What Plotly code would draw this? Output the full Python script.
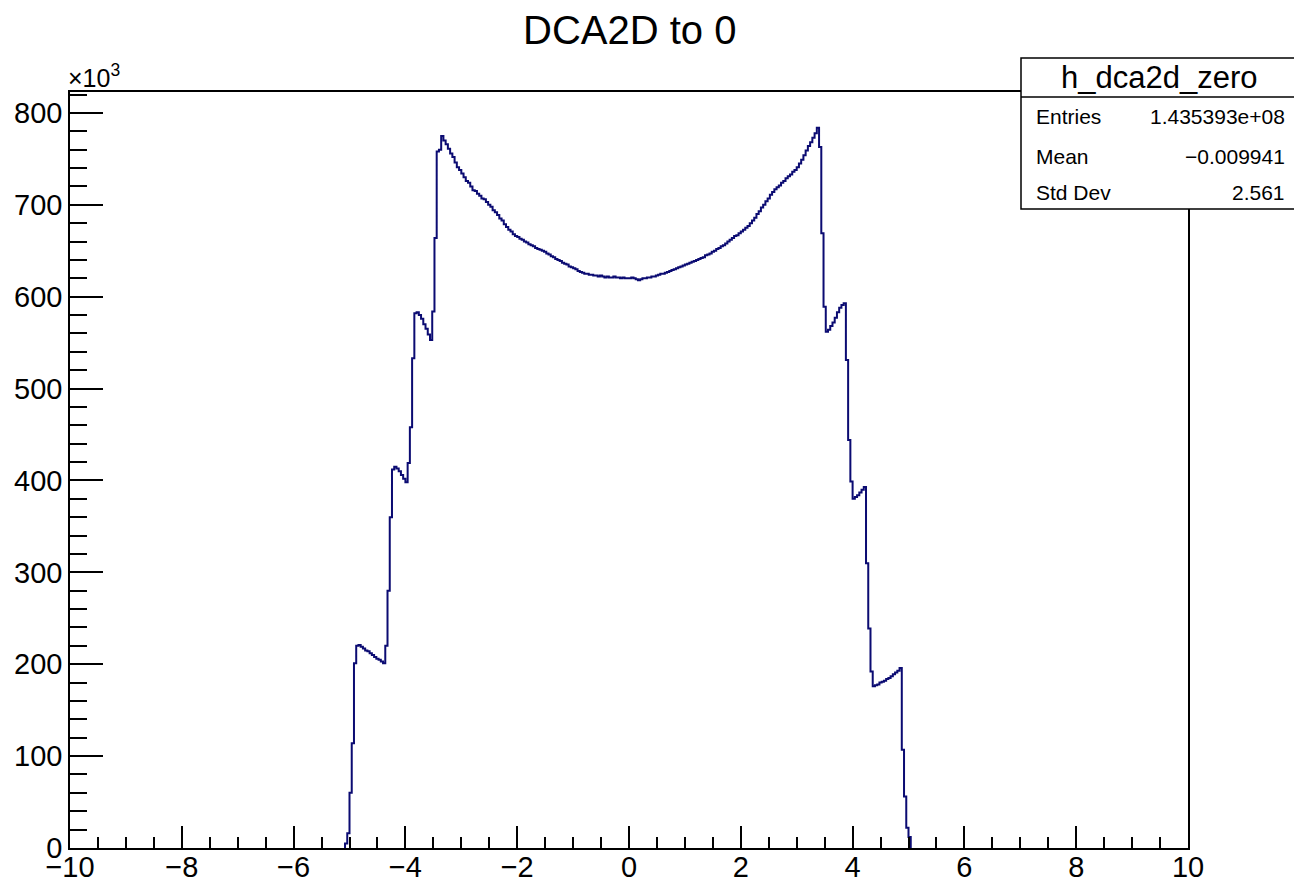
import numpy as np
import plotly.graph_objects as go

# ---- histogram h_dca2d_zero : DCA2D to 0 -------------------------------
# Bin contents in units of 10^3 entries, bins of width 0.04 starting at -5.08.
BIN_WIDTH = 0.04
FIRST_EDGE = -5.08

left_tail = [  # -5.08 ... -3.32
    5, 16, 60, 114, 201,
    220, 221, 219, 217, 215, 214, 212, 210, 208, 206, 205, 203, 201,
    220, 280, 360, 412, 415, 413, 410, 406, 402, 398,
    419, 458, 533, 582, 583, 580, 576, 570, 565, 559, 553,
    584, 664, 758, 760, 775, 770,
]
left_wing = [  # -3.28 ... -0.04
    766, 761, 756, 752, 746, 741, 738, 734, 730, 726,
    724, 720, 716, 715, 712, 710, 707, 706, 703, 700,
    698, 694, 692, 689, 685, 683, 679, 676, 673, 671,
    668, 666, 665, 663, 662, 660, 659, 657, 656, 655,
    653, 652, 651, 650, 649, 647, 646, 644, 643, 641,
    640, 639, 637, 636, 635, 633, 632, 631, 630, 628,
    627, 626, 625, 625, 624, 624, 623, 623, 622, 623,
    622, 621, 622, 621, 621, 622, 621, 621, 620, 621,
    620, 620,
]
right_wing = [  # 0.00 ... 3.36
    620, 621, 620, 619, 618, 619, 620, 620, 621, 621,
    622, 622, 623, 624, 625, 625, 626, 627, 628, 629,
    630, 631, 632, 633, 634, 635, 636, 637, 638, 639,
    640, 641, 642, 643, 645, 646, 647, 649, 650, 652,
    653, 655, 656, 658, 660, 662, 664, 666, 667, 669,
    671, 673, 675, 677, 680, 683, 686, 690, 693, 697,
    700, 704, 707, 711, 714, 717, 719, 721, 724, 726,
    729, 731, 733, 736, 738, 741, 745, 749, 754, 759,
    764, 768, 773, 778, 784,
]
right_tail = [  # 3.40 ... 5.00
    763, 669, 589,
    562, 564, 568, 572, 577, 583, 588, 591, 593,
    531, 444, 399,
    380, 382, 384, 387, 390, 393,
    310, 239, 192,
    176, 177, 178, 180, 181, 182, 184, 185, 187, 189, 191, 193, 196,
    107, 56, 22, 12,
]

counts_k = left_tail + left_wing + right_wing + right_tail
edges = FIRST_EDGE + BIN_WIDTH * np.arange(len(counts_k) + 1)

# step outline: rise from zero at the first edge, fall back at the last
xs = np.concatenate([[edges[0]], edges])
ys = np.concatenate([[0], counts_k, [0]])

stats_name = "h_dca2d_zero"
stats_labels = ["Entries", "Mean", "Std Dev"]
stats_values = ["1.435393e+08", "\u22120.009941", "2.561"]

FONT = "Liberation Sans, Arial, Helvetica, sans-serif"

fig = go.Figure()
fig.add_trace(go.Scatter(
    x=xs, y=ys, mode="lines", line=dict(color="#0b0b72", width=2, shape="hv"),
    hoverinfo="skip", showlegend=False,
))

W, H = 1294, 884
L, R, T, B = 70, 1188, 92, 848


def px(xp):
    return (xp - L) / (R - L)


def py(yp):
    return (B - yp) / (B - T)


axis_common = dict(
    showgrid=False, zeroline=False, showline=True, mirror=True,
    linecolor="black", linewidth=1.5, ticks="inside", tickcolor="black",
    tickwidth=1.5, tickfont=dict(family=FONT, size=29, color="black"),
    automargin=False,
)

fig.update_layout(
    width=W, height=H,
    margin=dict(l=L, r=W - R, t=T, b=H - B, autoexpand=False),
    paper_bgcolor="white", plot_bgcolor="white",
    font=dict(family=FONT, color="black"),
    xaxis=dict(range=[-10, 10], dtick=2, ticklen=22, ticklabelstandoff=-8,
               minor=dict(dtick=0.5, ticklen=11, ticks="inside",
                          tickcolor="black", tickwidth=1.5),
               **axis_common),
    yaxis=dict(range=[0, 822.8], dtick=100, ticklen=33,
               minor=dict(dtick=20, ticklen=17, ticks="inside",
                          tickcolor="black", tickwidth=1.5),
               **axis_common),
)

annotations = [
    dict(text="DCA2D to 0", x=0.5, y=py(30), xref="paper", yref="paper",
         xanchor="center", yanchor="middle", showarrow=False,
         font=dict(family=FONT, size=40, color="black")),
    dict(text="\u00d710<sup>3</sup>", x=px(66), y=py(76), xref="paper",
         yref="paper", xanchor="left", yanchor="middle", showarrow=False,
         font=dict(family=FONT, size=25, color="black")),
    dict(text=stats_name, x=px(1159), y=py(78), xref="paper", yref="paper",
         xanchor="center", yanchor="middle", showarrow=False,
         font=dict(family=FONT, size=31, color="black")),
]
row_y = [117, 156, 192]
for lab, val, yy in zip(stats_labels, stats_values, row_y):
    annotations.append(dict(text=lab, x=px(1034), y=py(yy), xref="paper",
                            yref="paper", xanchor="left", yanchor="middle",
                            showarrow=False,
                            font=dict(family=FONT, size=21, color="black")))
    annotations.append(dict(text=val, x=px(1287), y=py(yy), xref="paper",
                            yref="paper", xanchor="right", yanchor="middle",
                            showarrow=False,
                            font=dict(family=FONT, size=21, color="black")))
fig.update_layout(annotations=annotations)

# statistics box
fig.add_shape(type="rect", xref="paper", yref="paper",
              x0=px(1021), x1=px(1300), y0=py(209), y1=py(58),
              fillcolor="white", line=dict(color="black", width=1.5),
              layer="above")
fig.add_shape(type="line", xref="paper", yref="paper",
              x0=px(1021), x1=px(1300), y0=py(97), y1=py(97),
              line=dict(color="black", width=1.5), layer="above")

fig.write_html("out.html")
